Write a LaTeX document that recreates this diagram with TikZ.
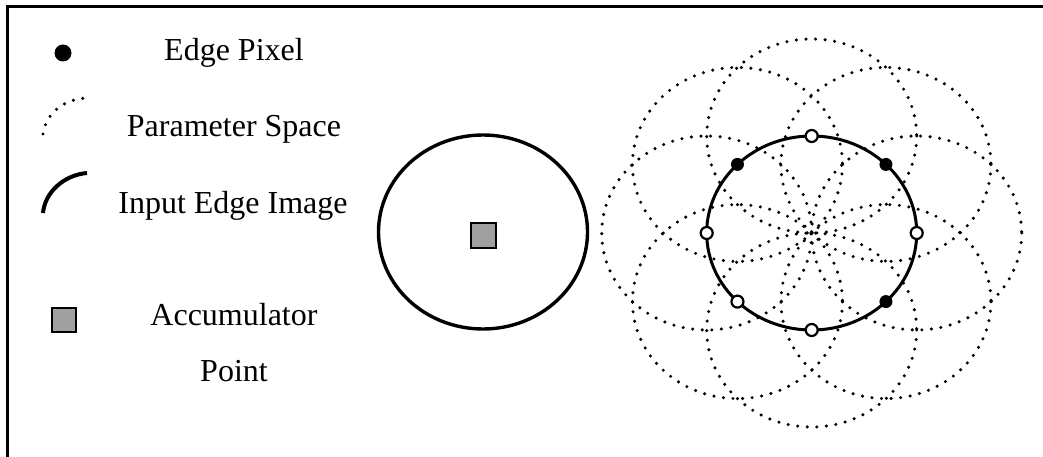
\documentclass[tikz,border=0pt]{standalone}
\usepackage{fontspec}
\setmainfont{Liberation Serif}
\begin{document}
\begin{tikzpicture}[x=1pt,y=-1pt,
  frame/.style={line width=3pt},
  edgeline/.style={line width=3.4pt},
  param/.style={line width=3.4pt, line cap=round, dash pattern=on 0pt off 9.6pt},
  lbl/.style={anchor=base, font=\fontsize{32}{38}\selectfont, inner sep=0pt},
  acc/.style={draw=black, line width=1.6pt, fill=gray!75, minimum size=24pt, inner sep=0pt},
  pixfull/.style={circle, fill=black, minimum size=13pt, inner sep=0pt},
  pixopen/.style={circle, draw=black, fill=white, line width=2.2pt, minimum size=12pt, inner sep=0pt}]
\useasboundingbox (0,0) rectangle (1043,457);
\draw[frame] (7,460) -- (7,7) -- (1046,7);
% legend
\node[circle, fill=black, minimum size=17pt, inner sep=0pt] (legpix) at (63,53) {};
\node[lbl] (tpix) at (234,61) {Edge Pixel};
\draw[param] (43,134) .. controls (46,113) and (64,99) .. (87,98);
\node[lbl] (tpar) at (234,137) {Parameter Space};
\draw[line width=4pt] (43,213) .. controls (45,192) and (64,175) .. (87,173);
\node[lbl] (tinp) at (233,213) {Input Edge Image};
\node[acc] (legacc) at (64,320) {};
\node[lbl] (tacc) at (234,325) {Accumulator};
\node[lbl] (tpt) at (234,381) {Point};
% input circle with accumulator point
\coordinate (L) at (483,232);
\draw[edgeline] (L) ellipse [x radius=104.5, y radius=97];
\node[acc, minimum size=25pt] (accpt) at (483.5,235.5) {};
% parameter space circles
\coordinate (C) at (811.7,233);
\foreach \a in {0,45,...,315}
  \draw[param] ({811.7+105*cos(\a)},{233-97*sin(\a)}) ellipse [x radius=105, y radius=97];
\draw[edgeline, line width=3pt] (C) ellipse [x radius=105, y radius=97];
\foreach \a in {45,135,315}
  \node[pixfull] (f\a) at ({811.7+105*cos(\a)},{233-97*sin(\a)}) {};
\foreach \a in {0,90,180,225,270}
  \node[pixopen] (o\a) at ({811.7+105*cos(\a)},{233-97*sin(\a)}) {};
\end{tikzpicture}
\end{document}
